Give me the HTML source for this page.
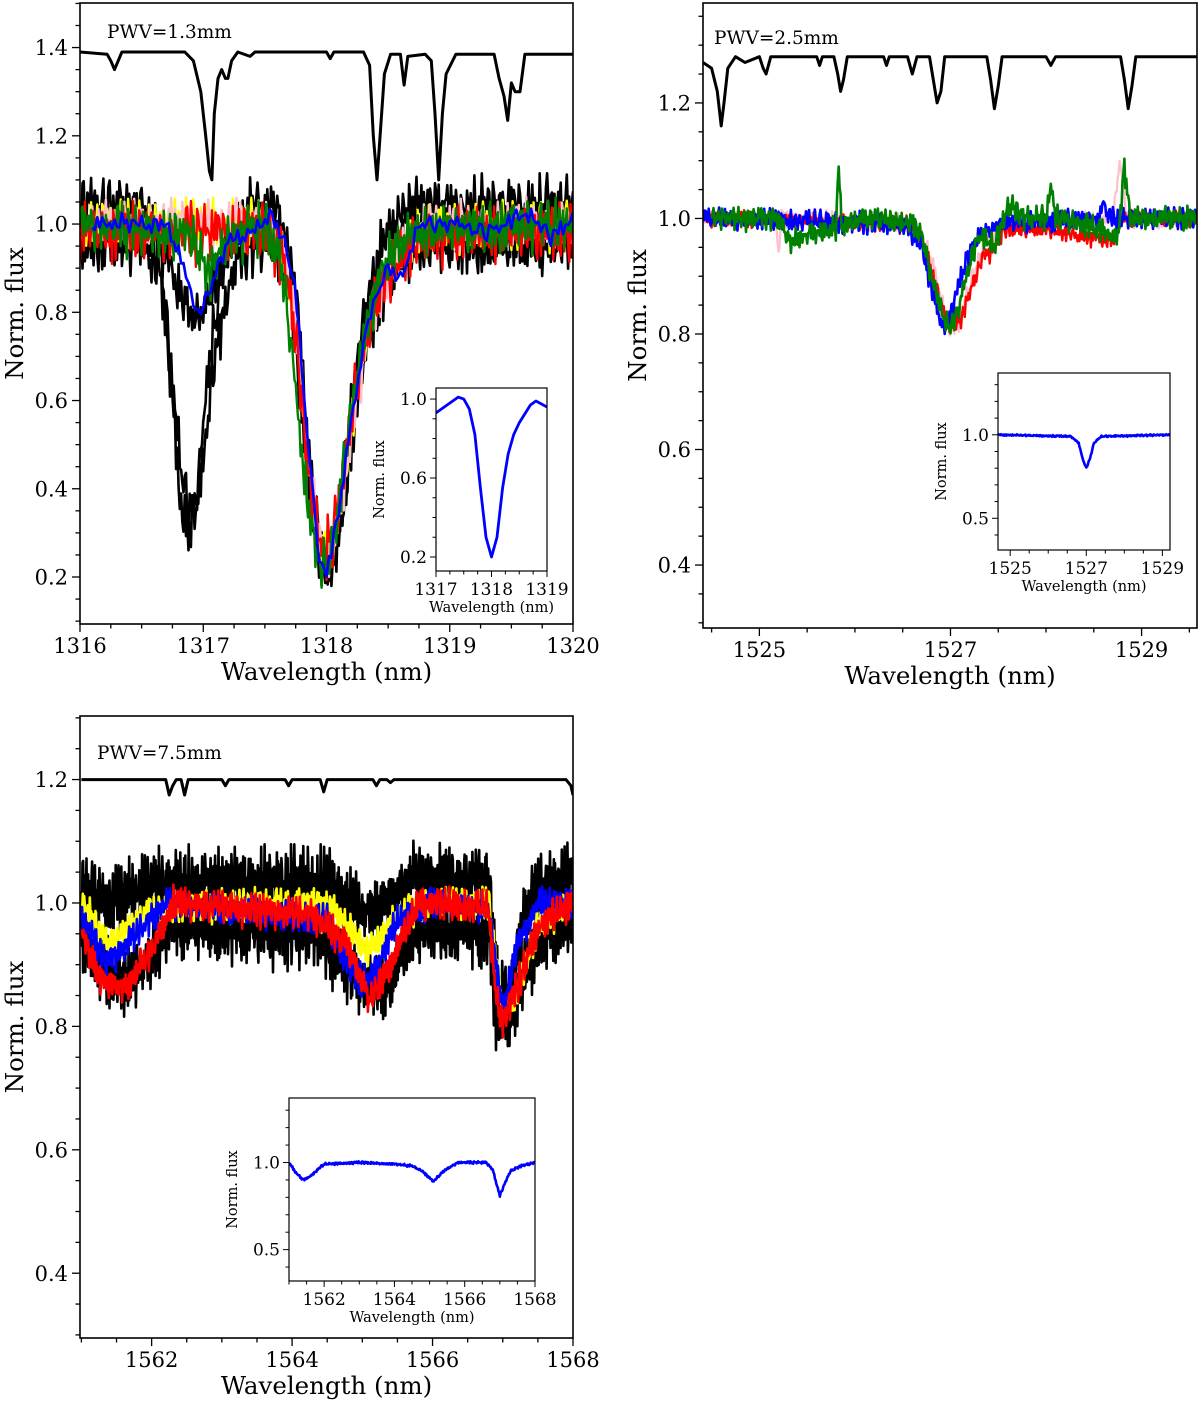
<!DOCTYPE html>
<html><head><meta charset="utf-8">
<style>
html,body{margin:0;padding:0;background:#fff;}
svg{display:block;}
text{font-family:"DejaVu Serif","Liberation Serif",serif;fill:#000;}
</style></head>
<body>
<svg id="fig" width="1200" height="1405" viewBox="0 0 1200 1405" xmlns="http://www.w3.org/2000/svg"></svg>
<script>
// ---------- shared noise patterns (typed) ----------
const noiseA = [0.3,-0.8,0.5,1.0,-0.2,-0.9,0.7,0.1,-0.5,0.9,-1.0,0.4,0.2,-0.6,0.8,-0.3,0.6,-0.7,0.0,1.0,-0.4,0.3,-0.9,0.5,0.7,-0.2,-0.8,0.9,0.1,-0.5,0.4,-1.0,0.6,0.2,-0.3,0.8,-0.6,0.0,0.9,-0.7,0.3,-0.1,0.5,-0.9,1.0,-0.4,0.2];
const noiseB = [-0.5,0.9,0.1,-0.7,0.6,-0.2,1.0,-0.9,0.3,0.4,-0.6,0.8,-1.0,0.2,0.5,-0.3,0.7,-0.8,0.0,0.9,-0.4,0.6,-0.1,-0.7,1.0,0.3,-0.5,0.8,-0.9,0.2,0.4,-0.6,0.7,-0.2,0.1,-1.0,0.9,0.5,-0.3,0.6,-0.8,0.3,-0.4,1.0,-0.1,-0.6,0.7,0.2,-0.9,0.5,-0.2,0.8,-0.5];

// ---------- Panel 1 (PWV=1.3mm) ----------
const p1TellWl = [1316,1316.22,1316.25,1316.28,1316.31,1316.34,1316.85,1316.92,1316.98,1317.02,1317.05,1317.07,1317.09,1317.12,1317.15,1317.18,1317.2,1317.23,1317.28,1317.38,1317.42,1318.0,1318.03,1318.06,1318.3,1318.35,1318.38,1318.41,1318.44,1318.47,1318.52,1318.6,1318.63,1318.66,1318.8,1318.85,1318.88,1318.91,1318.94,1318.97,1319.05,1319.36,1319.4,1319.44,1319.47,1319.5,1319.53,1319.57,1319.61,1320];
const p1TellFx = [1.39,1.385,1.37,1.35,1.37,1.39,1.39,1.37,1.3,1.2,1.12,1.10,1.25,1.33,1.35,1.33,1.33,1.37,1.39,1.38,1.39,1.39,1.375,1.39,1.39,1.36,1.2,1.10,1.22,1.34,1.385,1.385,1.315,1.38,1.385,1.37,1.25,1.10,1.25,1.34,1.385,1.385,1.33,1.29,1.235,1.32,1.30,1.30,1.385,1.385];
const p1BlackAWl = [1316,1316.5,1316.65,1316.75,1316.82,1316.88,1316.95,1317.05,1317.2,1317.4,1317.6,1317.7,1317.8,1317.9,1318.0,1318.1,1318.2,1318.3,1318.45,1318.6,1318.8,1320];
const p1BlackAFx = [1.04,1.04,0.96,0.6,0.35,0.28,0.4,0.7,0.95,1.04,1.04,0.9,0.6,0.3,0.21,0.33,0.58,0.78,0.95,1.03,1.04,1.04];
const p1BlackBWl = [1316,1316.5,1316.65,1316.75,1316.85,1316.92,1317.0,1317.1,1317.25,1317.4,1317.6,1317.72,1317.82,1317.92,1318.02,1318.12,1318.22,1318.35,1318.5,1318.7,1320];
const p1BlackBFx = [0.95,0.95,0.9,0.62,0.38,0.33,0.45,0.72,0.9,0.95,0.95,0.82,0.5,0.26,0.2,0.32,0.56,0.76,0.88,0.94,0.95];
const p1BlackCWl = [1316,1316.6,1316.75,1316.88,1316.97,1317.1,1317.3,1317.6,1317.75,1317.85,1317.95,1318.05,1318.15,1318.3,1318.5,1318.7,1320];
const p1BlackCFx = [1.0,1.0,0.88,0.8,0.78,0.88,0.98,1.0,0.85,0.5,0.25,0.22,0.4,0.7,0.9,0.99,1.0];
const p1RedWl = [1316,1317.5,1317.65,1317.75,1317.85,1317.95,1318.05,1318.15,1318.25,1318.4,1318.6,1318.8,1320];
const p1RedFx = [0.98,0.98,0.92,0.75,0.45,0.25,0.28,0.45,0.65,0.82,0.92,0.97,0.98];
const p1PinkWl = [1316,1317.5,1317.65,1317.75,1317.85,1317.95,1318.05,1318.15,1318.25,1318.4,1318.6,1318.8,1320];
const p1PinkFx = [1.0,1.0,0.95,0.78,0.48,0.26,0.26,0.42,0.62,0.82,0.94,0.99,1.0];
const p1YellowWl = [1316,1317.5,1317.65,1317.75,1317.85,1317.95,1318.05,1318.15,1318.25,1318.4,1318.6,1318.8,1320];
const p1YellowFx = [1.0,1.0,0.93,0.76,0.46,0.26,0.25,0.42,0.64,0.82,0.94,0.99,1.0];
const p1GreenWl = [1316,1316.9,1317.05,1317.2,1317.5,1317.62,1317.72,1317.82,1317.92,1318.02,1318.12,1318.22,1318.35,1318.5,1318.7,1320];
const p1GreenFx = [1.0,0.97,0.88,0.97,0.99,0.92,0.72,0.42,0.23,0.22,0.4,0.62,0.8,0.92,0.98,1.0];
const p1BlueWl = [1316.1,1316.5,1316.7,1316.85,1316.95,1317.05,1317.2,1317.4,1317.55,1317.65,1317.75,1317.85,1317.95,1318.0,1318.1,1318.2,1318.35,1318.5,1318.6,1318.75,1319,1319.3,1319.6,1319.75,1319.8,1320];
const p1BlueFx = [1.0,1.0,1.0,0.9,0.78,0.85,0.96,0.98,1.02,0.97,0.85,0.5,0.22,0.2,0.35,0.55,0.8,0.9,0.87,1.0,1.0,0.98,1.02,1.0,0.97,1.01];
const p1InsetWl = [1317,1317.2,1317.4,1317.5,1317.6,1317.7,1317.8,1317.9,1318.0,1318.1,1318.2,1318.3,1318.4,1318.5,1318.7,1318.8,1319];
const p1InsetFx = [0.93,0.97,1.01,1.0,0.95,0.82,0.55,0.3,0.2,0.3,0.55,0.72,0.82,0.88,0.97,0.99,0.96];

// ---------- Panel 2 (PWV=2.5mm) ----------
const p2TellWl = [1524.41,1524.5,1524.56,1524.6,1524.63,1524.67,1524.75,1524.85,1525.0,1525.04,1525.07,1525.12,1525.6,1525.63,1525.66,1525.78,1525.82,1525.85,1525.88,1525.92,1526.3,1526.33,1526.36,1526.55,1526.6,1526.65,1526.78,1526.82,1526.86,1526.9,1526.94,1527.38,1527.42,1527.46,1527.5,1527.54,1528.0,1528.05,1528.1,1528.78,1528.82,1528.86,1528.9,1528.94,1529.58];
const p2TellFx = [1.27,1.26,1.22,1.16,1.2,1.26,1.28,1.27,1.28,1.26,1.25,1.28,1.28,1.265,1.28,1.28,1.25,1.22,1.24,1.28,1.28,1.265,1.28,1.28,1.25,1.28,1.28,1.24,1.2,1.22,1.28,1.28,1.24,1.19,1.23,1.28,1.28,1.265,1.28,1.28,1.24,1.19,1.23,1.28,1.28];
const p2PinkWl = [1524.41,1525.17,1525.2,1525.23,1526.6,1526.8,1526.9,1527.0,1527.1,1527.2,1527.35,1527.6,1528.7,1528.78,1528.84,1529.58];
const p2PinkFx = [1.0,1.0,0.94,1.0,0.99,0.93,0.86,0.81,0.82,0.88,0.95,0.99,1.0,1.10,1.0,1.0];
const p2RedWl = [1524.41,1526.6,1526.75,1526.9,1527.0,1527.1,1527.2,1527.35,1527.45,1527.55,1528.0,1528.7,1528.8,1529.58];
const p2RedFx = [1.0,0.99,0.94,0.85,0.81,0.82,0.87,0.94,0.94,0.98,0.98,0.96,1.0,1.0];
const p2BlueWl = [1524.41,1526.5,1526.7,1526.8,1526.9,1526.95,1527.05,1527.15,1527.3,1527.5,1528.55,1528.6,1528.65,1529.58];
const p2BlueFx = [1.0,0.99,0.95,0.88,0.82,0.81,0.86,0.92,0.97,0.99,1.0,1.03,1.0,1.0];
const p2GreenWl = [1524.5,1525.2,1525.3,1525.5,1525.8,1525.83,1525.86,1526.2,1526.6,1526.7,1526.8,1526.9,1527.0,1527.1,1527.2,1527.3,1527.45,1527.6,1527.8,1528.0,1528.05,1528.1,1528.6,1528.75,1528.82,1528.88,1529.0,1529.58];
const p2GreenFx = [1.0,1.0,0.96,0.97,0.98,1.09,0.99,1.0,0.99,0.97,0.9,0.84,0.81,0.85,0.92,0.97,0.95,1.02,1.0,1.0,1.06,1.0,0.98,0.96,1.09,1.0,1.0,1.0];
const p2InsetWl = [1524.68,1526.6,1526.8,1526.9,1527.0,1527.1,1527.2,1527.4,1529.2];
const p2InsetFx = [1.0,0.99,0.95,0.86,0.8,0.86,0.95,0.99,1.0];

// ---------- Panel 3 (PWV=7.5mm) ----------
const p3TellWl = [1561,1562.2,1562.25,1562.3,1562.35,1562.42,1562.47,1562.52,1562.6,1563.0,1563.05,1563.1,1563.9,1563.95,1564.0,1564.4,1564.45,1564.5,1565.15,1565.2,1565.25,1565.35,1565.4,1565.45,1567.9,1567.97,1568];
const p3TellFx = [1.2,1.2,1.175,1.19,1.2,1.2,1.175,1.2,1.2,1.2,1.19,1.2,1.2,1.19,1.2,1.2,1.18,1.2,1.2,1.19,1.2,1.2,1.195,1.2,1.2,1.19,1.175];
const p3BlackUWl = [1561,1561.4,1561.8,1562.2,1564.5,1565.0,1565.4,1565.7,1566.8,1566.95,1567.1,1567.3,1567.6,1568];
const p3BlackUFx = [1.02,1.0,1.02,1.03,1.03,0.98,1.0,1.04,1.03,0.86,0.83,0.99,1.03,1.04];
const p3BlackLWl = [1561,1561.4,1561.7,1562.3,1564.3,1565.0,1565.3,1565.8,1566.8,1566.9,1567.15,1567.3,1567.6,1568];
const p3BlackLFx = [0.95,0.88,0.87,0.96,0.95,0.87,0.86,0.96,0.95,0.82,0.82,0.88,0.95,0.96];
const p3YellowWl = [1561,1561.4,1562.0,1564.5,1565.1,1565.5,1566,1566.8,1567.0,1567.2,1567.5,1568];
const p3YellowFx = [1.0,0.93,0.99,1.0,0.92,0.98,1.0,1.0,0.82,0.85,0.96,1.0];
const p3BlueWl = [1561,1561.35,1561.8,1562.2,1564.5,1564.9,1565.1,1565.5,1566,1566.8,1567.0,1567.2,1567.5,1568];
const p3BlueFx = [0.98,0.9,0.95,1.0,0.97,0.88,0.87,0.97,1.0,0.99,0.82,0.93,1.0,1.0];
const p3RedWl = [1561,1561.3,1561.6,1562.0,1562.3,1564.3,1564.8,1565.1,1565.4,1565.8,1566.8,1566.9,1567.0,1567.2,1567.5,1568];
const p3RedFx = [0.95,0.87,0.86,0.92,1.0,0.98,0.93,0.84,0.9,1.0,0.99,0.85,0.81,0.86,0.96,1.0];
const p3InsetWl = [1561,1561.2,1561.4,1561.6,1562,1563,1564,1564.5,1564.8,1565.1,1565.4,1565.8,1566.6,1566.8,1566.9,1567.0,1567.1,1567.3,1567.6,1568];
const p3InsetFx = [1.0,0.94,0.9,0.92,0.99,1.0,0.99,0.98,0.95,0.89,0.95,1.0,1.0,0.96,0.88,0.81,0.86,0.95,0.98,1.0];

// ---------- helpers ----------
const NS = "http://www.w3.org/2000/svg";
const fig = document.getElementById('fig');
function mk(tag, attrs, parent){ const e=document.createElementNS(NS,tag); for(const k in attrs) e.setAttribute(k,attrs[k]); (parent||fig).appendChild(e); return e; }
function interp(wl, fx, x){
  if(x<=wl[0]) return fx[0];
  for(let i=1;i<wl.length;i++){ if(x<=wl[i]){ const t=(x-wl[i-1])/(wl[i]-wl[i-1]); return fx[i-1]+t*(fx[i]-fx[i-1]); } }
  return fx[fx.length-1];
}
function isMajor(v, base, step){ const r=(v-base)/step; return Math.abs(r-Math.round(r))<1e-6; }
function makeAxes(c){
  const sx = v => c.x0 + (v-c.xmin)/(c.xmax-c.xmin)*(c.x1-c.x0);
  const sy = v => c.y1 - (v-c.ymin)/(c.ymax-c.ymin)*(c.y1-c.y0);
  const xb = c.xbase||0, yb = c.ybase||0;
  const g = mk('g',{});
  
  
  const cp = 'clip-'+c.name;
  const cl = mk('clipPath',{id:cp},g); mk('rect',{x:c.x0,y:c.y0,width:c.x1-c.x0,height:c.y1-c.y0},cl);
  mk('rect',{x:c.x0,y:c.y0,width:c.x1-c.x0,height:c.y1-c.y0,fill:'#fff'},g);
  const plot = mk('g',{'clip-path':'url(#'+cp+')'},g);
  
  
  const ticks = mk('g',{stroke:'#000','stroke-width':c.inset?1:1.3},g);
  const fs = c.inset?17:21;
  for(let k=Math.ceil((c.xmin-xb)/c.xminor-1e-9); xb+k*c.xminor<=c.xmax+1e-9; k++){
    const v = xb+k*c.xminor;
    const X=sx(v); const major = isMajor(v,xb,c.xmajor);
    mk('line',{x1:X,x2:X,y1:c.y1,y2:c.y1+(major?(c.inset?6:8):(c.inset?3.5:4.5))},ticks);
    if(major){ const t=mk('text',{x:X,y:c.y1+(c.inset?24:29),'text-anchor':'middle','font-size':fs},g); t.textContent=String(Math.round(v));
        }
  }
  for(let k=Math.ceil((c.ymin-yb)/c.yminor-1e-9); yb+k*c.yminor<=c.ymax+1e-9; k++){
    const v = yb+k*c.yminor;
    const Y=sy(v); const major = isMajor(v,yb,c.ymajor);
    mk('line',{x1:c.x0,x2:c.x0-(major?(c.inset?6:8):(c.inset?3.5:4.5)),y1:Y,y2:Y},ticks);
    if(major){ const t=mk('text',{x:c.x0-(c.inset?9:12),y:Y+fs*0.36,'text-anchor':'end','font-size':fs},g); t.textContent=v.toFixed(1);
        }
  }
  mk('rect',{x:c.x0,y:c.y0,width:c.x1-c.x0,height:c.y1-c.y0,fill:'none',stroke:'#000','stroke-width':c.inset?1.2:1.6},g);
  const xl = mk('text',{x:(c.x0+c.x1)/2,y:c.y1+(c.inset?41:56),'text-anchor':'middle','font-size':c.inset?14.5:24.5},g);
  xl.textContent='Wavelength (nm)';
   
  const yx = c.inset? c.x0-52 : c.x0-57, yy=(c.y0+c.y1)/2;
  const yl = mk('text',{x:yx,y:yy,'text-anchor':'middle','font-size':c.inset?14.5:24.5,transform:'rotate(-90 '+yx+' '+yy+')'},g);
  yl.textContent='Norm. flux';
   
  return {sx,sy,plot,g};
}
function drawSeries(ax, wl, fx, opt, nm){
  const step = opt.step||0.01;
  const start = wl[0], end = wl[wl.length-1];
  let d=''; let i=0;
  for(let x=start; x<=end+1e-9; x+=step, i++){
    let y = interp(wl,fx,x);
    if(opt.amp){ y += opt.amp*(0.6*noiseA[(i+opt.off)%noiseA.length] + 0.4*noiseB[(i*3+opt.off)%noiseB.length]); }
    d += (i?'L':'M')+ax.sx(x).toFixed(1)+','+ax.sy(y).toFixed(1);
  }
  const p = mk('path',{d:d,fill:'none',stroke:opt.color,'stroke-width':opt.w||2.5,'stroke-linejoin':'round'},ax.plot);
  
  
}
function drawLine(ax, wl, fx, color, w, nm){
  let d=''; for(let i=0;i<wl.length;i++) d+=(i?'L':'M')+ax.sx(wl[i]).toFixed(1)+','+ax.sy(fx[i]).toFixed(1);
  const p = mk('path',{d:d,fill:'none',stroke:color,'stroke-width':w,'stroke-linejoin':'round'},ax.plot);
  
  
}
function label(ax,x,y,s,nm){ const t=mk('text',{x:x,y:y,'font-size':18.5},ax.g); t.textContent=s;
    }

// ---------- Panel 1 ----------
const a1 = makeAxes({name:'panel-pwv-1-3',x0:80,x1:573,y0:3,y1:624,xmin:1316,xmax:1320,ymin:0.0935,ymax:1.501,xmajor:1,xminor:0.25,ymajor:0.2,yminor:0.05});
drawLine(a1,p1TellWl,p1TellFx,'#000',3,'telluric-line-pwv-1-3');
drawSeries(a1,p1BlackAWl,p1BlackAFx,{color:'#000',w:2.6,amp:0.075,off:0},'black-spectrum-a');
drawSeries(a1,p1BlackBWl,p1BlackBFx,{color:'#000',w:2.6,amp:0.075,off:11},'black-spectrum-b');
drawSeries(a1,p1BlackCWl,p1BlackCFx,{color:'#000',w:2.6,amp:0.07,off:23},'black-spectrum-c');
drawSeries(a1,p1YellowWl,p1YellowFx,{color:'#ffff00',w:2.4,amp:0.065,off:5},'yellow-spectrum');
drawSeries(a1,p1PinkWl,p1PinkFx,{color:'#ffc0cb',w:2.4,amp:0.065,off:17},'pink-spectrum');
drawSeries(a1,p1RedWl,p1RedFx,{color:'#ff0000',w:2.4,amp:0.08,off:31},'red-spectrum');
drawSeries(a1,p1GreenWl,p1GreenFx,{color:'#008000',w:2.4,amp:0.07,off:40},'green-spectrum');
drawSeries(a1,p1BlueWl,p1BlueFx,{color:'#0000ff',w:2.6,amp:0.025,off:7,step:0.02},'blue-spectrum');
label(a1,107,38,'PWV=1.3mm','pwv-label');
const i1 = makeAxes({name:'inset-pwv-1-3',inset:true,x0:436,x1:547,y0:388,y1:571,xmin:1317,xmax:1319,ymin:0.129,ymax:1.056,xmajor:1,xminor:0.25,ymajor:0.4,yminor:0.1,ybase:0.2});
drawLine(i1,p1InsetWl,p1InsetFx,'#0000ff',2.8,'inset-blue-spectrum');

// ---------- Panel 2 ----------
const a2 = makeAxes({name:'panel-pwv-2-5',x0:703,x1:1197,y0:3,y1:628,xmin:1524.41,xmax:1529.58,ymin:0.291,ymax:1.373,xmajor:2,xminor:0.5,xbase:1525,ymajor:0.2,yminor:0.05});
drawLine(a2,p2TellWl,p2TellFx,'#000',3,'telluric-line-pwv-2-5');
drawSeries(a2,p2PinkWl,p2PinkFx,{color:'#ffc0cb',w:2.2,amp:0.02,off:3},'pink-spectrum');
drawSeries(a2,p2RedWl,p2RedFx,{color:'#ff0000',w:2.4,amp:0.018,off:13},'red-spectrum');
drawSeries(a2,p2BlueWl,p2BlueFx,{color:'#0000ff',w:2.6,amp:0.022,off:21},'blue-spectrum');
drawSeries(a2,p2GreenWl,p2GreenFx,{color:'#008000',w:2.6,amp:0.025,off:33},'green-spectrum');
label(a2,714,44,'PWV=2.5mm','pwv-label');
const i2 = makeAxes({name:'inset-pwv-2-5',inset:true,x0:998,x1:1170,y0:373,y1:550,xmin:1524.68,xmax:1529.2,ymin:0.31,ymax:1.37,xmajor:2,xminor:0.5,xbase:1525,ymajor:0.5,yminor:0.1});
drawSeries(i2,p2InsetWl,p2InsetFx,{color:'#0000ff',w:2.6,amp:0.006,off:2,step:0.02},'inset-blue-spectrum');

// ---------- Panel 3 ----------
const a3 = makeAxes({name:'panel-pwv-7-5',x0:80,x1:573,y0:716,y1:1338,xmin:1560.98,xmax:1568,ymin:0.295,ymax:1.303,xmajor:2,xminor:0.5,ymajor:0.2,yminor:0.05});
drawLine(a3,p3TellWl,p3TellFx,'#000',3,'telluric-line-pwv-7-5');
drawSeries(a3,p3BlackUWl,p3BlackUFx,{color:'#000',w:2.6,amp:0.065,off:0,step:0.008},'black-spectrum-upper');
drawSeries(a3,p3BlackLWl,p3BlackLFx,{color:'#000',w:2.6,amp:0.065,off:19,step:0.008},'black-spectrum-lower');
drawSeries(a3,p3YellowWl,p3YellowFx,{color:'#ffff00',w:2.6,amp:0.03,off:7},'yellow-spectrum');
drawSeries(a3,p3BlueWl,p3BlueFx,{color:'#0000ff',w:2.6,amp:0.03,off:29},'blue-spectrum');
drawSeries(a3,p3RedWl,p3RedFx,{color:'#ff0000',w:2.6,amp:0.032,off:37},'red-spectrum');
label(a3,97,759,'PWV=7.5mm','pwv-label');
const i3 = makeAxes({name:'inset-pwv-7-5',inset:true,x0:289,x1:535,y0:1098,y1:1281,xmin:1561,xmax:1568,ymin:0.32,ymax:1.37,xmajor:2,xminor:0.5,ymajor:0.5,yminor:0.1});
drawSeries(i3,p3InsetWl,p3InsetFx,{color:'#0000ff',w:2.6,amp:0.008,off:4,step:0.02},'inset-blue-spectrum');
</script>
</body></html>
